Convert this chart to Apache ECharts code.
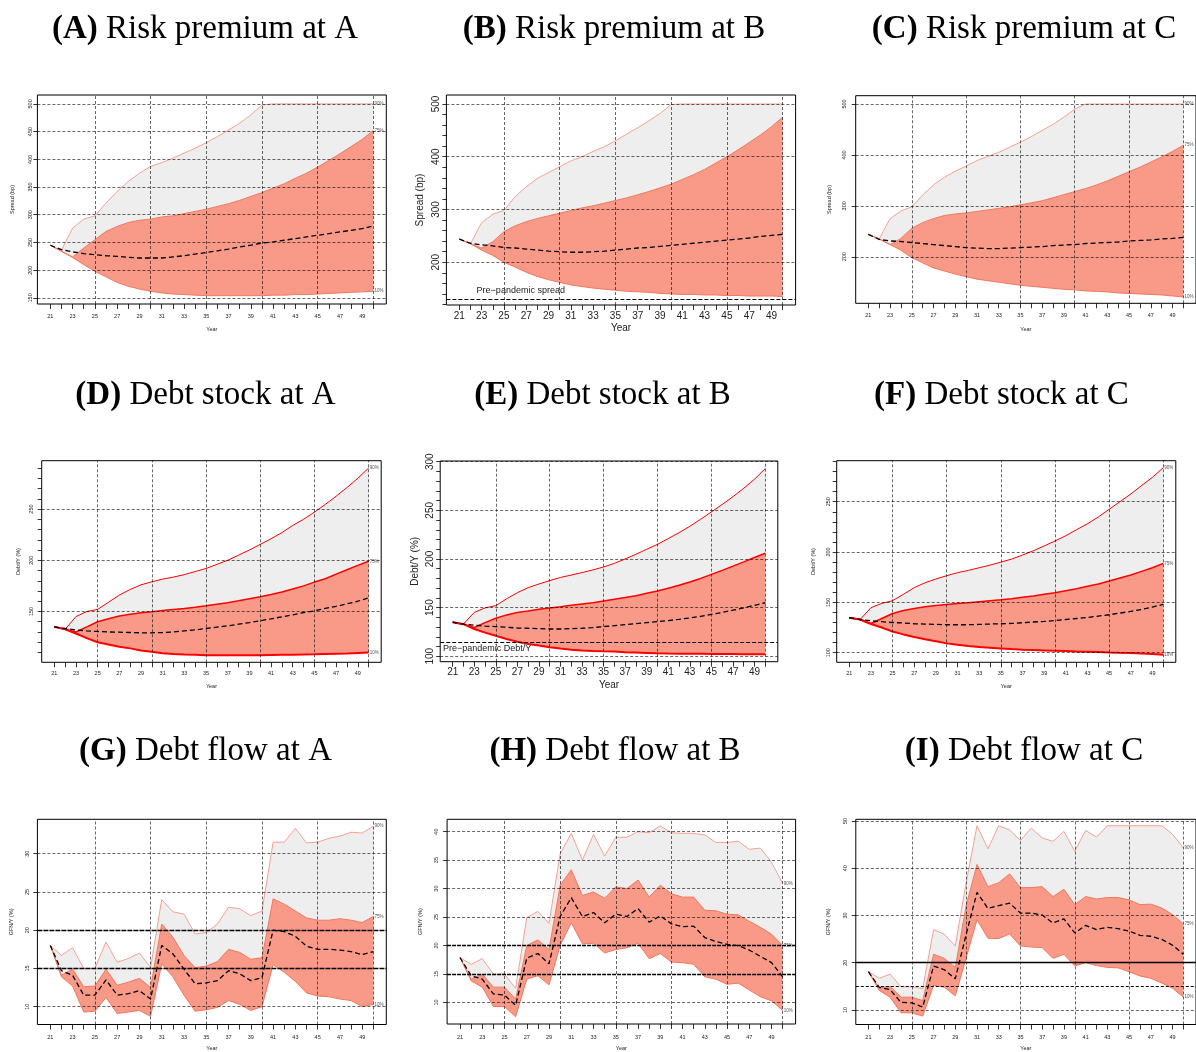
<!DOCTYPE html>
<html><head><meta charset="utf-8">
<script src="https://cdn.jsdelivr.net/npm/echarts/dist/echarts.min.js"></script>
<style>html,body{margin:0;padding:0;background:#fff}#c{width:1196px;height:1052px}</style>
</head><body><div id="c"></div><script>
const years = [21,22,23,24,25,26,27,28,29,30,31,32,33,34,35,36,37,38,39,40,41,42,43,44,45,46,47,48,49,50];
const xTickLabels = [21,23,25,27,29,31,33,35,37,39,41,43,45,47,49];
const xGridYears = [25,30,35,40,45,50];

// Panel A: risk premium at A (bp)
const A_p90 = [245,236,276,292,298,321,342,360,375,387,394,402,411,420,430,441,453,465,480,498,500,500,500,500,500,500,500,500,500,500];
const A_p75 = [245,234,224,240,255,270,279,286,290,292,296,298,302,306,310,315,320,326,333,340,348,356,366,375,386,398,410,423,436,452];
const A_p10 = [245,234,223,210,198,188,178,171,166,162,159,157,156,155,154,154,154,154,154,154,155,155,156,156,157,158,159,160,161,162];
const A_med = [245,237,233,230,228,226,225,223,222,222,222,224,226,229,232,235,238,242,245,249,251,254,257,260,263,266,269,272,275,280];
// Panel B
const B_p90 = [244,235,275,291,298,324,343,359,370,381,392,400,410,419,430,443,455,468,482,499,500,500,500,500,500,500,500,500,500,500];
const B_p75 = [244,235,227,239,258,269,277,283,288,293,298,303,307,312,317,322,328,334,341,348,357,366,376,388,400,413,427,441,457,475];
const B_p10 = [244,235,223,213,200,191,181,173,167,162,157,154,151,149,147,145,144,143,141,140,139,139,138,138,137,137,136,136,136,135];
const B_med = [244,236,233,231,228,227,225,223,221,220,219,219,220,221,223,225,227,228,230,232,234,236,238,240,242,244,246,249,251,253];
// Panel C
const C_p90 = [244,235,275,290,298,321,341,356,368,378,389,397,405,415,425,436,448,460,474,490,500,500,500,500,500,500,500,500,500,500];
const C_p75 = [244,235,224,236,256,267,275,281,284,286,289,292,295,298,302,306,310,316,322,328,334,341,349,358,367,376,386,396,407,419];
const C_p10 = [244,235,224,213,198,188,178,172,166,161,156,153,150,147,144,142,140,138,136,135,133,132,131,129,128,127,126,125,123,121];
const C_med = [244,234,231,230,228,226,224,222,220,218,217,216,216,217,218,219,220,222,223,224,226,227,228,229,231,232,233,235,236,238];
// Panel D: debt stock at A (%)
const D_p90 = [135,132.7,145,150,152,159,166,171.5,176,179,181.6,183.6,186,189,192,196,200,205,210,215.5,221,227,234,240,247,254.5,262.5,271,280,290];
const D_p75 = [135,132.7,130,135,140,143,145.5,147.4,148.7,149.7,151,152,153,154.2,155.5,157,158.5,160.4,162.4,164.3,166.6,169,172,175,178.7,182,186.5,190.7,195,199];
const D_p10 = [135,132.7,128.5,124,120,117.7,115.5,114,112,110.6,109.3,108.6,108,107.7,107.3,107.3,107.3,107.3,107.3,107.3,107.5,107.7,107.8,108,108.2,108.5,108.8,109,109.5,110];
const D_med = [135,133.4,132,131,130.5,130,129.8,129.5,129.2,129.2,129.5,130,131,132,133.4,134.7,136,137.6,139.2,141,142.8,144.8,146.7,149,150.6,153,155,157.5,160,163.4];
// Panel E
const E_p90 = [135,133.2,145,149.7,152,159,165.4,170.5,174.3,177.7,181,183.5,186,188.7,191.8,195.5,200,204.8,210,215,221,227,233.6,240.8,248.3,256,264,272.6,282,293];
const E_p75 = [135,133,129.5,134.6,139,142.5,145,146.6,148.3,149.7,151,152.4,153.8,155,156.8,158.6,160.3,162.3,164.7,167,170,173,176.4,180,184.2,188.3,192.6,197,201.5,205.8];
const E_p10 = [135,133,128,124.3,121,117.8,115,112.7,111,109.3,108,106.8,106,105.5,105.1,104.8,104,103.8,103.4,103,102.8,102.7,102.6,102.5,102.4,102.3,102.2,102.1,102,102];
const E_med = [135,133,132,131,130.5,129.8,129,128.8,128.4,128,128,128.4,128.8,129.5,130.5,131.5,132.5,133.5,134.6,135.6,136.7,138,139.4,141,143,145,147.3,149.7,152.4,155];
// Panel F
const F_p90 = [134.8,133,144.7,149,151.7,158,164.6,169.5,173.2,176.5,179.5,181.8,184.4,187,190,193,197,201.3,206,211,216.2,222.2,228,234.8,242.4,250,257.6,266,274.2,283.8];
const F_p75 = [134.8,133,129,134,139,142,144,145.7,147,148,149,149.7,150.7,151.7,152.6,153.6,155,156.3,158,159.6,161.6,163.6,166,168.2,171.2,174.2,177.2,180.8,184.4,188.7];
const F_p10 = [134.8,133,128.5,125,121,118.2,115.6,113.3,111.3,109.3,108,106.6,105.6,105,104.3,103.6,103,102.6,102.3,102,101.7,101.3,101,100.7,100.3,100,99.7,99.3,98.7,98];
const F_med = [134.8,133,131.8,130.8,130,129.5,128.8,128.5,128.1,127.8,127.8,127.8,128.1,128.5,128.8,129.1,129.8,130.5,131.1,132,133,134,135,136.4,137.7,139.4,141,143,145.4,148];
// Panel G: debt flow at A (%)
const G_p90 = [18.0,16.7,17.7,15.0,15.0,18.45,15.8,16.3,17.0,15.1,24.0,22.4,22.1,19.5,19.7,20.8,23.0,22.8,21.9,22.5,31.5,31.5,33.3,31.4,31.5,32.0,32.3,32.8,32.7,33.6];
const G_p75 = [18.0,14.1,14.9,12.6,12.7,14.9,12.8,13.2,13.7,12.5,20.8,19.1,16.7,15.1,15.3,15.9,17.5,17.1,16.2,16.4,24.1,23.4,22.5,21.6,21.3,21.3,21.5,21.3,21.0,21.8];
const G_p10 = [18.0,13.9,12.7,9.3,9.4,11.2,9.1,9.3,9.5,8.75,15.6,13.9,11.5,9.4,9.6,9.9,10.8,10.3,9.5,10.0,15.5,14.5,13.3,11.8,11.4,11.3,11.0,10.8,10.0,10.3];
const G_med = [18.0,14.7,14.1,11.5,11.5,13.5,11.5,11.7,12.1,11.0,18.0,16.9,14.9,13.0,13.1,13.4,14.7,14.3,13.4,13.8,20.0,19.8,19.2,17.9,17.5,17.5,17.4,17.2,16.8,17.2];
// Panel H
const H_p90 = [17.9,16.7,17.7,15.0,15.0,12.5,24.9,26.0,23.9,36.1,39.7,35.0,39.5,35.7,39.0,39.0,40.0,39.8,41.0,39.8,39.7,39.7,39.4,38.1,38.1,38.3,36.9,37.1,34.6,30.9];
const H_p75 = [17.9,14.1,15.0,12.7,12.7,10.6,20.0,21.0,19.3,30.6,33.3,28.8,29.4,28.3,30.3,30.0,31.5,28.5,30.6,29.1,28.5,28.5,26.2,26.1,25.5,25.4,24.25,23.2,22.0,20.0];
const H_p10 = [17.9,13.8,12.7,9.3,9.3,7.5,14.1,14.7,13.1,20.0,24.0,20.3,20.4,18.7,19.3,19.6,20.4,17.7,18.6,17.1,17.0,16.7,14.5,14.1,13.2,13.4,12.2,11.0,10.3,8.6];
const H_med = [17.9,14.7,14.1,11.5,11.3,9.5,17.8,18.6,16.8,25.1,28.4,25.1,25.8,24.0,25.5,25.1,26.5,24.1,25.2,23.8,23.3,23.4,21.4,20.7,20.2,20.0,19.2,18.1,17.0,14.5];
// Panel I
const I_p90 = [18.1,16.7,17.6,14.9,14.9,14.5,27.0,26.0,23.55,37.0,49.0,44.1,49.0,48.1,45.9,48.5,46.4,45.7,47.8,43.6,48.0,46.6,49.0,49.0,49.0,49.0,49.0,49.0,47.2,44.3];
const I_p75 = [18.1,14.6,15.0,12.7,12.7,12.0,21.8,20.9,19.0,32.1,40.8,36.1,36.95,38.8,35.9,35.9,36.1,34.0,35.55,32.3,34.0,33.5,33.8,33.8,33.3,32.3,32.4,31.6,30.2,28.2];
const I_p10 = [18.1,14.1,12.7,9.4,9.4,8.7,15.2,14.8,13.0,21.0,29.1,25.2,25.1,26.1,23.55,23.3,23.2,20.9,21.8,19.3,20.0,19.4,19.0,18.9,18.1,17.2,16.7,15.7,14.6,12.7];
const I_med = [18.1,14.8,14.3,11.6,11.5,10.6,19.3,18.5,16.6,26.0,34.9,31.5,32.1,32.6,30.5,30.5,30.1,28.4,29.3,26.3,27.9,27.0,27.5,27.2,26.7,25.8,25.6,24.95,23.7,21.8];

// Tick labels / ticks / grid values
const A_yLabels = [150,200,250,300,350,400,450,500];
const B_yLabels = [200,300,400,500];
const B_yTicks = [120,140,160,180,200,220,240,260,280,300,320,340,360,380,400,420,440,460,480,500];
const C_yLabels = [200,300,400,500];
const D_yLabels = [150,200,250];
const D_yTicks = [100,110,120,130,140,150,160,170,180,190,200,210,220,230,240,250,260,270,280,290];
const E_yLabels = [100,150,200,250,300];
const E_yTicks = [100,110,120,130,140,150,160,170,180,190,200,210,220,230,240,250,260,270,280,290,300];
const F_yLabels = [100,150,200,250];
const F_yTicks = [100,110,120,130,140,150,160,170,180,190,200,210,220,230,240,250,260,270,280,290];
const G_yLabels = [10,15,20,25,30];
const G_yGrid = [10,25,30];
const H_yLabels = [10,15,20,25,30,35,40];
const H_yGrid = [10,25,30,35,40];
const I_yLabels = [10,20,30,40,50];
const I_yGrid = [10,30,40,50];
const B_prePandemic = 130;
const E_prePandemic = 114.4;

const GRAY_FILL = '#EEEEEE', SALMON_FILL = '#F89A87', LIGHT_LINE = '#F7A193', BAND_LINE = '#F2785F', RED = '#FF0000';

const panels = [
 {lab:'(A)', title:' Risk premium at A', cx:205, cy:29, box:[37.4,95,348.9,209], yr:[139,516], yLabels:A_yLabels, yTicks:A_yLabels, yGrid:A_yLabels, d:[A_p90,A_p75,A_p10,A_med], yName:'Spread (bp)', fs:5.5, xm:9, xg:22, ym:4, yg:22, red:false, ends:true},
 {lab:'(B)', title:' Risk premium at B', cx:614, cy:29, box:[446.4,95,349.2,210], yr:[119,517], yLabels:B_yLabels, yTicks:B_yTicks, yGrid:B_yLabels, d:[B_p90,B_p75,B_p10,B_med], yName:'Spread (bp)', fs:10, xm:6, xg:18, ym:5, yg:21, red:false, ends:false, pre:B_prePandemic, preText:'Pre\u2212pandemic spread', preAt:22.55, prePos:[0,-13]},
 {lab:'(C)', title:' Risk premium at C', cx:1024, cy:29, box:[855.7,95.7,349.9,207.6], yr:[108.6,516.3], yLabels:C_yLabels, yTicks:C_yLabels, yGrid:C_yLabels, d:[C_p90,C_p75,C_p10,C_med], yName:'Spread (bp)', fs:5.5, xm:9.5, xg:23, ym:8, yg:23, red:false, ends:true},
 {lab:'(D)', title:' Debt stock at A', cx:205.5, cy:395, box:[41.7,460.7,339.5,201.6], yr:[100.4,297.2], yLabels:D_yLabels, yTicks:D_yTicks, yGrid:D_yLabels, d:[D_p90,D_p75,D_p10,D_med], yName:'Debt/Y (%)', fs:5.5, xm:8, xg:21, ym:7, yg:20, red:true, ends:true},
 {lab:'(E)', title:' Debt stock at B', cx:602.5, cy:395, box:[440.2,461,337.6,200.7], yr:[94.4,300.7], yLabels:E_yLabels, yTicks:E_yTicks, yGrid:E_yLabels, d:[E_p90,E_p75,E_p10,E_med], yName:'Debt/Y (%)', fs:10, xm:6, xg:18.5, ym:5, yg:20, red:true, ends:false, pre:E_prePandemic, preText:'Pre\u2212pandemic Debt/Y', preAt:20.1, prePos:[0,2]},
 {lab:'(F)', title:' Debt stock at C', cx:1001.5, cy:395, box:[836.7,460.7,339.1,201.6], yr:[90.5,290.7], yLabels:F_yLabels, yTicks:F_yTicks, yGrid:F_yLabels, d:[F_p90,F_p75,F_p10,F_med], yName:'Debt/Y (%)', fs:5.5, xm:8, xg:21, ym:5, yg:20, red:true, ends:true},
 {lab:'(G)', title:' Debt flow at A', cx:205.5, cy:751, box:[37.4,819.3,348.9,207.4], yr:[7.67,34.49], yLabels:G_yLabels, yTicks:G_yLabels, yGrid:G_yGrid, d:[G_p90,G_p75,G_p10,G_med], yName:'GFN/Y (%)', fs:5.5, xm:9.5, xg:20.5, ym:7, yg:23, red:false, ends:true, thick:[{v:15,t:[5,1],w:1.4},{v:20,t:[5,1],w:1.4}]},
 {lab:'(H)', title:' Debt flow at B', cx:615, cy:751, box:[447.1,819.3,348.5,206.7], yr:[6.23,42.16], yLabels:H_yLabels, yTicks:H_yLabels, yGrid:H_yGrid, d:[H_p90,H_p75,H_p10,H_med], yName:'GFN/Y (%)', fs:5.5, xm:10, xg:21, ym:8, yg:24, red:false, ends:true, thick:[{v:15,t:[4,1],w:1.4},{v:20,t:[4,1],w:1.4}]},
 {lab:'(I)', title:' Debt flow at C', cx:1024, cy:751, box:[855.8,819.3,348.8,207.4], yr:[6.92,50.36], yLabels:I_yLabels, yTicks:I_yLabels, yGrid:I_yGrid, d:[I_p90,I_p75,I_p10,I_med], yName:'GFN/Y (%)', fs:5.5, xm:9.5, xg:20.5, ym:7, yg:24, red:false, ends:true, thick:[{v:15,t:[3,2],w:1.2},{v:20,t:'solid',w:1.4}]}
];

const grids = [], xAxes = [], yAxes = [], series = [], graphics = [];
const GRID_LINE = {color:'#000', width:0.7, type:[3,2], opacity:0.85};

function pairs(arr){ return years.map((y,k)=>[y, arr[k]]); }

panels.forEach((P, i) => {
  grids.push({left:P.box[0], top:P.box[1], width:P.box[2], height:P.box[3], show:true, borderColor:'#000', borderWidth:1, backgroundColor:'transparent', containLabel:false});
  xAxes.push({gridIndex:i, type:'value', min:19.84, max:51.16,
    axisLine:{show:false}, splitLine:{show:false},
    axisTick:{show:true, customValues:years, length:5, lineStyle:{color:'#000', width:0.8}},
    axisLabel:{customValues:xTickLabels, fontSize:P.fs, color:'#222', margin:P.xm},
    name:'Year', nameLocation:'middle', nameGap:P.xg, nameTextStyle:{fontSize:P.fs, color:'#222'}});
  yAxes.push({gridIndex:i, type:'value', min:P.yr[0], max:P.yr[1],
    axisLine:{show:false}, splitLine:{show:false},
    axisTick:{show:true, customValues:P.yTicks, length:4, lineStyle:{color:'#000', width:0.8}},
    axisLabel:{customValues:P.yLabels, fontSize:P.fs, color:'#222', margin:P.ym, rotate:90},
    name:P.yName, nameLocation:'middle', nameGap:P.yg, nameRotate:90, nameTextStyle:{fontSize:P.fs, color:'#222'}});

  const [p90,p75,p10,med] = P.d;
  series.push({type:'custom', xAxisIndex:i, yAxisIndex:i, silent:true, z:1,
    data:[[years[0], p10[0]]], encode:{x:0, y:1},
    renderItem:function(params, api){
      if (params.dataIndex !== 0) return null;
      const gray = [], red = [];
      for (let k=0;k<years.length;k++) gray.push(api.coord([years[k], p90[k]]));
      for (let k=years.length-1;k>=0;k--) gray.push(api.coord([years[k], p75[k]]));
      for (let k=0;k<years.length;k++) red.push(api.coord([years[k], p75[k]]));
      for (let k=years.length-1;k>=0;k--) red.push(api.coord([years[k], p10[k]]));
      return {type:'group', children:[
        {type:'polygon', shape:{points:gray}, style:{fill:GRAY_FILL}},
        {type:'polygon', shape:{points:red}, style:{fill:SALMON_FILL}}]};
    }});

  const lineDefs = [
    {arr:p90, name:'90%', color:P.red?RED:LIGHT_LINE, width:1},
    {arr:p75, name:'75%', color:P.red?RED:BAND_LINE, width:P.red?1.5:1},
    {arr:p10, name:'10%', color:P.red?RED:BAND_LINE, width:P.red?2:1}];
  lineDefs.forEach(L => {
    series.push({type:'line', xAxisIndex:i, yAxisIndex:i, data:pairs(L.arr), symbol:'none', showSymbol:false, silent:true, z:3,
      lineStyle:{color:L.color, width:L.width},
      endLabel:{show:P.ends, formatter:L.name, fontSize:4.5, color:'#555', distance:1}});
  });

  const ml = [];
  xGridYears.forEach(v => ml.push({xAxis:v}));
  P.yGrid.forEach(v => ml.push({yAxis:v}));
  (P.thick||[]).forEach(t => ml.push({yAxis:t.v, lineStyle:{color:'#000', width:t.w, type:t.t, opacity:1}}));
  if (P.pre !== undefined) ml.push({yAxis:P.pre, lineStyle:{color:'#000', width:1.1, type:[4,2], opacity:1}});

  const medSeries = {type:'line', xAxisIndex:i, yAxisIndex:i, data:pairs(med), symbol:'none', showSymbol:false, silent:true, z:4,
    lineStyle:{color:'#000', width:1.3, type:[5,3]},
    markLine:{silent:true, symbol:['none','none'], label:{show:false}, lineStyle:GRID_LINE, data:ml, animation:false}};
  if (P.pre !== undefined) {
    medSeries.markPoint = {silent:true, animation:false, data:[{coord:[P.preAt, P.pre], symbol:'circle', symbolSize:0.01,
      label:{show:true, formatter:P.preText, position:P.prePos, align:'left', verticalAlign:'top', fontSize:9, color:'#222'}}]};
  }
  series.push(medSeries);

  graphics.push({type:'text', x:P.cx, y:P.cy, silent:true, style:{
    text:'{b|'+P.lab+'}{n|'+P.title+'}', align:'center', verticalAlign:'middle', textAlign:'center', textVerticalAlign:'middle', fill:'#000',
    rich:{b:{fontFamily:'Liberation Serif', fontWeight:'bold', fontSize:33, fill:'#000', color:'#000'},
          n:{fontFamily:'Liberation Serif', fontSize:33, fill:'#000', color:'#000'}}}});
});

const chart = echarts.init(document.getElementById('c'), null, {renderer:'canvas'});
chart.setOption({
  backgroundColor:'#fff', animation:false,
  textStyle:{fontFamily:'Liberation Sans'},
  grid:grids, xAxis:xAxes, yAxis:yAxes, series:series, graphic:graphics
});
</script></body></html>
